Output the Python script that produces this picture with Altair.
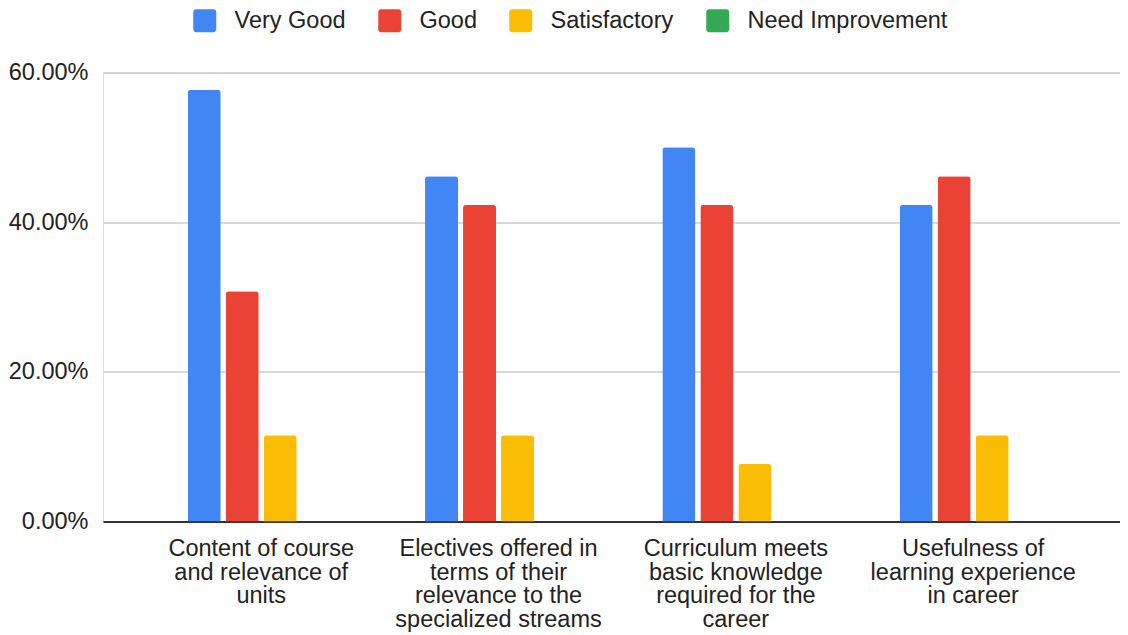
import altair as alt
import pandas as pd

categories = [
    "Content of course and relevance of units",
    "Electives offered in terms of their relevance to the specialized streams",
    "Curriculum meets basic knowledge required for the career",
    "Usefulness of learning experience in career",
]
label_lines = [
    ["Content of course", "and relevance of", "units"],
    ["Electives offered in", "terms of their", "relevance to the", "specialized streams"],
    ["Curriculum meets", "basic knowledge", "required for the", "career"],
    ["Usefulness of", "learning experience", "in career"],
]
series = ["Very Good", "Good", "Satisfactory", "Need Improvement"]
colors = ["#4285F4", "#EA4335", "#FBBC04", "#34A853"]
very_good = [0.5769, 0.4615, 0.5000, 0.4231]
good = [0.3077, 0.4231, 0.4231, 0.4615]
satisfactory = [0.1154, 0.1154, 0.0769, 0.1154]
need_improvement = [0.0, 0.0, 0.0, 0.0]

rows = []
for s, vals in zip(series, [very_good, good, satisfactory, need_improvement]):
    for c, v in zip(categories, vals):
        rows.append({"category": c, "series": s, "value": v})
df = pd.DataFrame(rows)

# multi-line label expression
expr = "''"
for c, lines in reversed(list(zip(categories, label_lines))):
    arr = "[" + ",".join("'" + l + "'" for l in lines) + "]"
    expr = f"datum.value == '{c}' ? {arr} : ({expr})"

FONT = "Arial, Liberation Sans, sans-serif"
rounded_square = ("M-0.75,-1H0.75A0.25,0.25 0 0 1 1,-0.75V0.75A0.25,0.25 0 0 1 0.75,1"
                  "H-0.75A0.25,0.25 0 0 1 -1,0.75V-0.75A0.25,0.25 0 0 1 -0.75,-1Z")

chart = alt.Chart(df).mark_bar(
    cornerRadiusTopLeft=3, cornerRadiusTopRight=3
).encode(
    x=alt.X("category:N", sort=categories, title=None,
            scale=alt.Scale(paddingInner=0.3805, paddingOuter=0.333, align=0.536),
            axis=alt.Axis(labelAngle=0, labelExpr=expr, labelFont=FONT, labelFontSize=23.5,
                          labelLineHeight=23.5, labelColor="#222", labelPadding=15,
                          labelLimit=0, ticks=False, domainColor="#333", domainWidth=2,
                          grid=False, labelBaseline="top")),
    xOffset=alt.XOffset("series:N", sort=series,
                        scale=alt.Scale(paddingInner=0.1316, paddingOuter=0)),
    y=alt.Y("value:Q", title=None,
            scale=alt.Scale(domain=[0, 0.6], nice=False),
            axis=alt.Axis(format=".2%", values=[0, 0.2, 0.4, 0.6], labelFont=FONT,
                          labelFontSize=23.5, labelColor="#222", labelPadding=15,
                          ticks=False, domain=False, gridColor="#ccc", gridWidth=1.5)),
    color=alt.Color("series:N", sort=series,
                    scale=alt.Scale(domain=series, range=colors),
                    legend=alt.Legend(title=None, orient="none", direction="horizontal",
                                      legendX=90, legendY=-64, symbolType=rounded_square,
                                      symbolSize=529, symbolStrokeWidth=0, symbolOpacity=1,
                                      labelFont=FONT, labelFontSize=23.5, labelColor="#222",
                                      labelOffset=18, columnPadding=32, columns=4,
                                      labelLimit=0)),
).properties(
    width=1017, height=449,
    padding={"left": 95, "top": 64.5, "right": 0, "bottom": 125},
    autosize=alt.AutoSizeParams(type="none"),
).configure_view(stroke=None).configure(background="white")

chart.save("out.html", embed_options={"renderer": "svg", "actions": False})
